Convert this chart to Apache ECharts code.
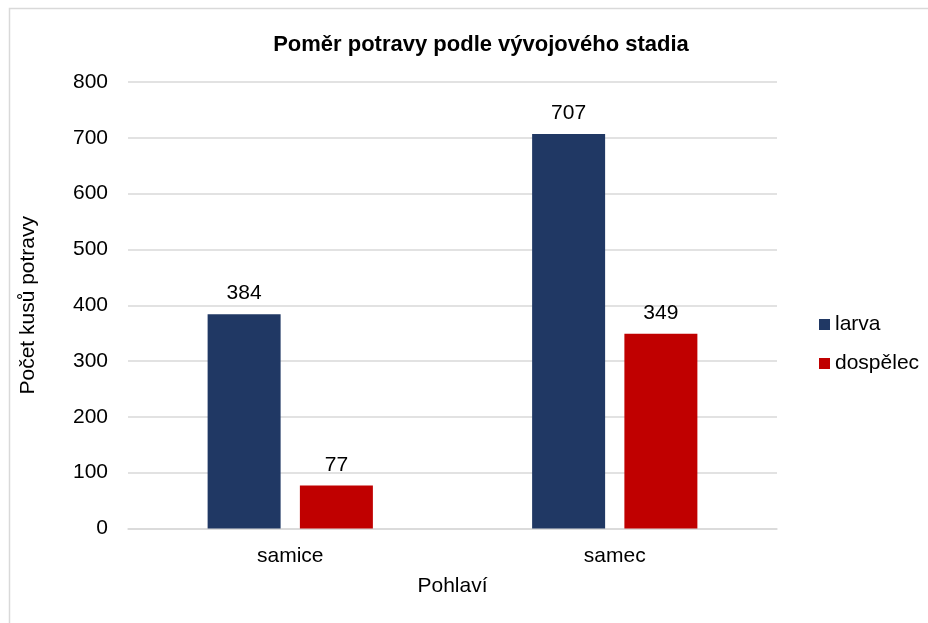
<!DOCTYPE html>
<html>
<head>
<meta charset="utf-8">
<script src="https://cdn.jsdelivr.net/npm/echarts@6/dist/echarts.min.js"></script>
<style>html,body{margin:0;padding:0;background:#fff;}#c{width:928px;height:623px;}</style>
</head>
<body>
<div id="c"></div>
<script>
const categories = ['samice', 'samec'];
const larva = [384, 707];
const dospelec = [77, 349];
const seriesNames = ['larva', 'dospělec'];

const chart = echarts.init(document.getElementById('c'), null, {renderer: 'canvas'});
const font = '"Liberation Sans", Arial, sans-serif';
const labelStyle = {show: true, position: 'top', distance: 10, color: '#000', fontSize: 21, fontFamily: font};
chart.setOption({
  animation: false,
  backgroundColor: '#fff',
  title: {
    text: 'Poměr potravy podle vývojového stadia',
    left: 476, top: 29, textAlign: 'center',
    textStyle: {fontFamily: font, fontSize: 22, fontWeight: 'bold', color: '#000'}
  },
  graphic: [{
    type: 'rect', shape: {x: 9.5, y: 8.5, width: 940, height: 640},
    style: {fill: 'none', stroke: '#d9d9d9', lineWidth: 1.5}, silent: true
  }],
  legend: {
    orient: 'vertical', left: 814, top: 309, itemWidth: 11, itemHeight: 11, itemGap: 18,
    icon: 'rect',
    textStyle: {fontFamily: font, fontSize: 21, color: '#000'},
    data: seriesNames
  },
  grid: {left: 128, right: 151, top: 82, bottom: 94.5, containLabel: false},
  xAxis: {
    type: 'category', data: categories,
    name: 'Pohlaví', nameLocation: 'middle', nameGap: 47,
    nameTextStyle: {fontFamily: font, fontSize: 21, color: '#000'},
    axisLine: {show: true, lineStyle: {color: '#d9d9d9', width: 1.5}},
    axisTick: {show: false},
    axisLabel: {fontFamily: font, fontSize: 21, color: '#000', margin: 17}
  },
  yAxis: {
    type: 'value', min: 0, max: 800, interval: 100,
    name: 'Počet kusů potravy', nameLocation: 'middle', nameGap: 89, nameRotate: 90,
    nameTextStyle: {fontFamily: font, fontSize: 21, color: '#000'},
    axisLine: {show: false}, axisTick: {show: false},
    splitLine: {lineStyle: {color: '#d9d9d9', width: 1.5}},
    axisLabel: {fontFamily: font, fontSize: 21, color: '#000', margin: 20}
  },
  series: [
    {name: seriesNames[0], type: 'bar', data: larva, barWidth: 73, barGap: '26.4%',
     itemStyle: {color: '#203864'}, label: labelStyle},
    {name: seriesNames[1], type: 'bar', data: dospelec, barWidth: 73,
     itemStyle: {color: '#c00000'}, label: labelStyle}
  ]
});
</script>
</body>
</html>
